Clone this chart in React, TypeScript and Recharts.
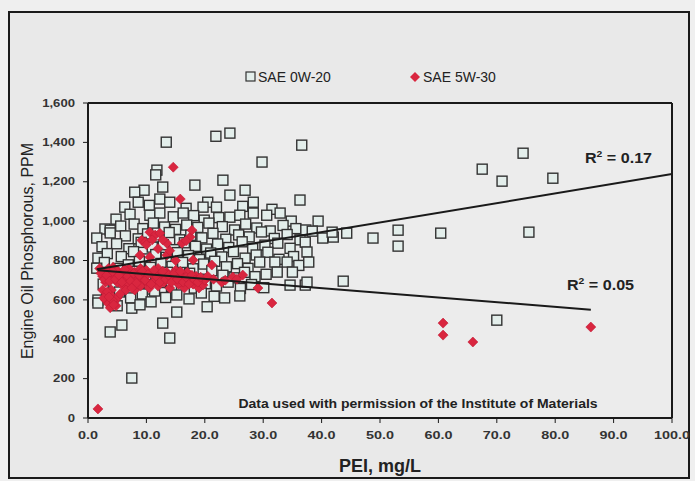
import React from 'react';
import { ScatterChart, Scatter, XAxis, YAxis, ReferenceLine, CartesianGrid } from 'recharts';

// SAE 0W-20 (x = PEI mg/L, y = Phosphorous PPM)
const sae0w20: { x: number; y: number }[] = [
  // upper fringe
  { x: 13.4, y: 1401 }, { x: 21.9, y: 1431 }, { x: 24.3, y: 1447 }, { x: 36.6, y: 1386 }, { x: 29.8, y: 1300 },
  { x: 11.8, y: 1259 }, { x: 11.6, y: 1235 }, { x: 23.1, y: 1208 }, { x: 12.8, y: 1173 }, { x: 18.3, y: 1183 },
  { x: 9.6, y: 1157 }, { x: 8.0, y: 1147 }, { x: 26.9, y: 1157 }, { x: 24.3, y: 1132 }, { x: 28.3, y: 1096 },
  { x: 8.6, y: 1096 }, { x: 12.3, y: 1112 }, { x: 6.3, y: 1071 }, { x: 14.0, y: 1096 }, { x: 20.5, y: 1096 },
  { x: 22.0, y: 1071 }, { x: 19.7, y: 1071 }, { x: 36.3, y: 1107 }, { x: 16.8, y: 1065 }, { x: 10.5, y: 1080 },
  { x: 26.5, y: 1075 }, { x: 31.5, y: 1060 },
  // 1000-1050
  { x: 4.8, y: 1010 }, { x: 7.2, y: 1035 }, { x: 10.6, y: 1030 }, { x: 12.3, y: 1041 }, { x: 14.6, y: 1022 },
  { x: 16.3, y: 1041 }, { x: 18.1, y: 1028 }, { x: 19.9, y: 1005 }, { x: 22.4, y: 1018 }, { x: 24.3, y: 1020 },
  { x: 26.0, y: 1030 }, { x: 28.3, y: 1041 }, { x: 30.6, y: 1030 }, { x: 32.9, y: 1041 }, { x: 34.8, y: 1000 },
  { x: 39.4, y: 1000 },
  // 950-1000
  { x: 2.9, y: 960 }, { x: 5.6, y: 975 }, { x: 7.9, y: 985 }, { x: 9.4, y: 962 }, { x: 11.2, y: 990 },
  { x: 13.1, y: 970 }, { x: 15.0, y: 958 }, { x: 16.9, y: 980 }, { x: 18.8, y: 968 }, { x: 20.7, y: 990 },
  { x: 23.0, y: 972 }, { x: 25.1, y: 955 }, { x: 27.0, y: 985 }, { x: 28.9, y: 965 }, { x: 31.2, y: 950 },
  { x: 33.4, y: 978 }, { x: 35.6, y: 962 }, { x: 37.3, y: 955 }, { x: 3.8, y: 954 },
  // 900-950
  { x: 1.5, y: 914 }, { x: 3.8, y: 940 }, { x: 6.4, y: 925 }, { x: 8.6, y: 910 }, { x: 10.2, y: 935 },
  { x: 12.0, y: 918 }, { x: 13.9, y: 942 }, { x: 15.7, y: 905 }, { x: 17.6, y: 928 }, { x: 19.5, y: 915 },
  { x: 21.4, y: 938 }, { x: 23.6, y: 908 }, { x: 25.8, y: 930 }, { x: 27.6, y: 920 }, { x: 29.7, y: 945 },
  { x: 31.9, y: 912 }, { x: 34.1, y: 932 }, { x: 36.3, y: 905 }, { x: 38.4, y: 949 }, { x: 40.2, y: 914 },
  { x: 42.0, y: 919 }, { x: 44.3, y: 939 }, { x: 41.8, y: 944 },
  // 850-900
  { x: 2.4, y: 870 }, { x: 4.9, y: 885 }, { x: 7.0, y: 860 }, { x: 9.1, y: 892 }, { x: 11.0, y: 868 },
  { x: 12.9, y: 880 }, { x: 14.8, y: 855 }, { x: 16.5, y: 890 }, { x: 18.4, y: 872 }, { x: 20.3, y: 858 },
  { x: 22.2, y: 884 }, { x: 24.1, y: 866 }, { x: 26.4, y: 895 }, { x: 28.2, y: 860 }, { x: 30.3, y: 878 },
  { x: 32.5, y: 888 }, { x: 34.6, y: 862 }, { x: 37.2, y: 893 },
  // 800-850
  { x: 1.7, y: 812 }, { x: 3.3, y: 835 }, { x: 5.7, y: 820 }, { x: 7.8, y: 845 }, { x: 9.7, y: 808 },
  { x: 11.6, y: 830 }, { x: 13.4, y: 816 }, { x: 15.3, y: 840 }, { x: 17.2, y: 825 }, { x: 19.1, y: 805 },
  { x: 21.0, y: 838 }, { x: 22.9, y: 818 }, { x: 24.9, y: 845 }, { x: 26.9, y: 812 }, { x: 28.8, y: 828 },
  { x: 30.8, y: 842 }, { x: 32.7, y: 806 }, { x: 35.2, y: 820 }, { x: 37.5, y: 843 },
  // 750-800
  { x: 2.8, y: 790 }, { x: 5.1, y: 760 }, { x: 6.9, y: 778 }, { x: 8.8, y: 795 }, { x: 10.7, y: 765 },
  { x: 12.5, y: 785 }, { x: 14.4, y: 770 }, { x: 16.2, y: 790 }, { x: 18.0, y: 758 }, { x: 19.8, y: 782 },
  { x: 21.7, y: 796 }, { x: 23.7, y: 768 }, { x: 25.6, y: 784 }, { x: 27.4, y: 760 }, { x: 29.4, y: 792 },
  { x: 32.0, y: 792 }, { x: 34.1, y: 792 }, { x: 36.1, y: 775 }, { x: 37.8, y: 792 },
  // 700-750
  { x: 1.5, y: 761 }, { x: 3.9, y: 735 }, { x: 6.0, y: 720 }, { x: 8.0, y: 745 }, { x: 9.9, y: 728 },
  { x: 11.8, y: 710 }, { x: 13.6, y: 740 }, { x: 15.5, y: 722 }, { x: 17.4, y: 735 }, { x: 19.3, y: 705 },
  { x: 21.2, y: 748 }, { x: 23.1, y: 725 }, { x: 25.0, y: 712 }, { x: 26.8, y: 740 }, { x: 28.6, y: 718 },
  { x: 30.5, y: 730 }, { x: 32.4, y: 741 }, { x: 35.0, y: 741 },
  // 650-700
  { x: 2.6, y: 680 }, { x: 4.6, y: 665 }, { x: 6.7, y: 690 }, { x: 8.7, y: 672 }, { x: 10.5, y: 655 },
  { x: 12.4, y: 688 }, { x: 14.3, y: 668 }, { x: 16.1, y: 695 }, { x: 18.2, y: 660 }, { x: 20.1, y: 682 },
  { x: 22.0, y: 670 }, { x: 24.0, y: 690 }, { x: 26.1, y: 658 }, { x: 28.0, y: 678 }, { x: 30.1, y: 662 },
  { x: 34.6, y: 675 }, { x: 37.2, y: 675 }, { x: 37.5, y: 690 }, { x: 43.7, y: 695 },
  // 600-650
  { x: 1.7, y: 599 }, { x: 3.2, y: 620 }, { x: 5.4, y: 640 }, { x: 7.3, y: 610 }, { x: 9.3, y: 630 },
  { x: 11.4, y: 645 }, { x: 13.3, y: 612 }, { x: 15.2, y: 625 }, { x: 17.3, y: 605 }, { x: 19.4, y: 635 },
  { x: 21.6, y: 618 }, { x: 23.4, y: 610 }, { x: 26.0, y: 620 },
  // 550-600
  { x: 1.7, y: 584 }, { x: 5.0, y: 570 }, { x: 7.5, y: 558 }, { x: 8.9, y: 575 }, { x: 10.8, y: 590 },
  { x: 20.4, y: 565 },
  // low
  { x: 3.8, y: 437 }, { x: 5.8, y: 472 }, { x: 12.8, y: 482 }, { x: 14.0, y: 406 }, { x: 7.5, y: 203 },
  { x: 15.2, y: 538 },
  // right side
  { x: 48.8, y: 914 }, { x: 53.1, y: 954 }, { x: 53.1, y: 873 }, { x: 60.4, y: 939 }, { x: 75.5, y: 944 },
  { x: 67.5, y: 1264 }, { x: 74.5, y: 1345 }, { x: 70.9, y: 1203 }, { x: 79.6, y: 1218 }, { x: 70.0, y: 497 },
];

// SAE 5W-30
const sae5w30: { x: number; y: number }[] = [
  { x: 1.7, y: 46 },
  // dense band
  { x: 2.0, y: 760 }, { x: 2.5, y: 720 }, { x: 3.0, y: 740 }, { x: 3.0, y: 690 }, { x: 3.5, y: 760 },
  { x: 4.0, y: 710 }, { x: 4.0, y: 650 }, { x: 4.3, y: 766 }, { x: 4.5, y: 730 }, { x: 5.0, y: 690 },
  { x: 5.0, y: 750 }, { x: 5.5, y: 710 }, { x: 6.0, y: 670 }, { x: 6.0, y: 740 }, { x: 6.5, y: 700 },
  { x: 7.0, y: 760 }, { x: 7.0, y: 680 }, { x: 7.5, y: 720 }, { x: 8.0, y: 650 }, { x: 8.0, y: 740 },
  { x: 8.5, y: 700 }, { x: 9.0, y: 760 }, { x: 9.0, y: 670 }, { x: 9.5, y: 720 }, { x: 10.0, y: 690 },
  { x: 10.0, y: 750 }, { x: 10.5, y: 660 }, { x: 11.0, y: 730 }, { x: 11.5, y: 700 }, { x: 12.0, y: 760 },
  { x: 12.0, y: 670 }, { x: 12.5, y: 720 }, { x: 13.0, y: 690 }, { x: 13.5, y: 740 }, { x: 14.0, y: 660 },
  { x: 14.5, y: 710 }, { x: 15.0, y: 750 }, { x: 15.5, y: 680 }, { x: 16.0, y: 720 }, { x: 16.5, y: 660 },
  { x: 17.0, y: 740 }, { x: 17.5, y: 700 }, { x: 18.0, y: 680 }, { x: 18.5, y: 720 }, { x: 19.0, y: 660 },
  { x: 19.7, y: 675 }, { x: 20.0, y: 700 }, { x: 21.2, y: 777 }, { x: 22.9, y: 690 }, { x: 24.8, y: 716 },
  { x: 26.5, y: 726 }, { x: 25.5, y: 705 }, { x: 29.1, y: 660 }, { x: 31.5, y: 584 },
  { x: 2.2, y: 735 }, { x: 2.8, y: 705 }, { x: 3.2, y: 725 }, { x: 3.7, y: 695 }, { x: 4.2, y: 745 },
  { x: 4.7, y: 705 }, { x: 5.3, y: 725 }, { x: 5.8, y: 690 }, { x: 6.3, y: 755 }, { x: 6.8, y: 720 },
  { x: 7.3, y: 695 }, { x: 7.8, y: 735 }, { x: 8.3, y: 685 }, { x: 8.8, y: 725 }, { x: 9.3, y: 745 },
  { x: 9.8, y: 700 }, { x: 10.3, y: 730 }, { x: 10.8, y: 680 }, { x: 11.3, y: 750 }, { x: 11.8, y: 715 },
  { x: 12.3, y: 690 }, { x: 12.8, y: 745 }, { x: 13.3, y: 705 }, { x: 13.8, y: 725 }, { x: 14.3, y: 690 },
  { x: 14.8, y: 735 }, { x: 15.3, y: 705 }, { x: 15.8, y: 745 }, { x: 16.3, y: 690 }, { x: 16.8, y: 715 },
  { x: 17.3, y: 680 }, { x: 17.8, y: 725 }, { x: 18.3, y: 700 }, { x: 18.8, y: 690 }, { x: 19.3, y: 715 },
  { x: 20.5, y: 720 }, { x: 21.5, y: 705 }, { x: 23.5, y: 700 },
  // lower blob
  { x: 3.0, y: 600 }, { x: 3.5, y: 580 }, { x: 4.0, y: 620 }, { x: 4.5, y: 590 }, { x: 5.0, y: 610 },
  { x: 3.8, y: 560 }, { x: 4.8, y: 570 }, { x: 2.5, y: 650 }, { x: 3.3, y: 640 }, { x: 2.7, y: 610 },
  { x: 4.2, y: 598 }, { x: 5.5, y: 630 }, { x: 6.5, y: 650 }, { x: 7.5, y: 660 }, { x: 3.6, y: 615 },
  { x: 4.4, y: 575 },
  // raised group
  { x: 8.9, y: 827 }, { x: 9.2, y: 903 }, { x: 9.8, y: 893 }, { x: 10.6, y: 944 }, { x: 10.6, y: 817 },
  { x: 11.5, y: 929 }, { x: 12.3, y: 939 }, { x: 13.5, y: 888 }, { x: 13.5, y: 827 }, { x: 16.1, y: 888 },
  { x: 17.5, y: 919 }, { x: 17.8, y: 954 }, { x: 18.0, y: 802 }, { x: 15.8, y: 1112 }, { x: 14.6, y: 1274 },
  { x: 12.0, y: 860 }, { x: 15.0, y: 800 }, { x: 10.0, y: 880 }, { x: 11.0, y: 905 }, { x: 14.0, y: 850 },
  { x: 16.8, y: 900 }, { x: 12.8, y: 905 },
  // right side
  { x: 60.8, y: 482 }, { x: 60.8, y: 421 }, { x: 65.9, y: 386 }, { x: 86.1, y: 462 },
];

// Linear trend line end points
const trend0w20 = [{ x: 1.5, y: 755 }, { x: 100, y: 1239 }];
const trend5w30 = [{ x: 1.7, y: 750 }, { x: 86.1, y: 550 }];

const xTicks = [0, 10, 20, 30, 40, 50, 60, 70, 80, 90, 100];
const yTicks = [0, 200, 400, 600, 800, 1000, 1200, 1400, 1600];

const seriesNames = ['SAE 0W-20', 'SAE 5W-30'];
const r2Values = ['0.17', '0.05'];
const yLabel = 'Engine Oil Phosphorous, PPM';
const xLabel = 'PEI, mg/L';
const note = 'Data used with permission of the Institute of Materials';

const FONT = '"Liberation Sans", Arial, sans-serif';
const SQ_FILL = '#e3eeeb';
const SQ_STROKE = '#333';
const DIA_FILL = '#d9263f';

const SquareShape = (props: any) => {
  const { cx, cy } = props;
  if (cx == null || cy == null) return <g />;
  return <rect x={cx - 5} y={cy - 5} width={10} height={10} fill={SQ_FILL} stroke={SQ_STROKE} strokeWidth={1.4} />;
};

const DiamondShape = (props: any) => {
  const { cx, cy } = props;
  if (cx == null || cy == null) return <g />;
  const r = 5;
  return <path d={`M${cx},${cy - r}L${cx + r},${cy}L${cx},${cy + r}L${cx - r},${cy}Z`} fill={DIA_FILL} stroke="#c21a35" strokeWidth={0.6} />;
};

const NoShape = () => <g />;

const XTick = (props: any) => {
  const { x, y, payload } = props;
  return (
    <text x={0} y={0} transform={`translate(${x},${y}) scale(1.25,1)`} textAnchor="middle" dy="0.71em"
      fontFamily={FONT} fontWeight="bold" fontSize={11.5} fill="#333">
      {Number(payload.value).toFixed(1)}
    </text>
  );
};

const YTick = (props: any) => {
  const { x, y, payload } = props;
  return (
    <text x={0} y={0} transform={`translate(${x},${y}) scale(1.25,1)`} textAnchor="end" dy="0.35em"
      fontFamily={FONT} fontWeight="bold" fontSize={10.5} fill="#333">
      {Number(payload.value).toLocaleString('en-US')}
    </text>
  );
};

const R2Label = ({ x, y, value }: { x: number; y: number; value: string }) => (
  <text x={0} y={0} transform={`translate(${x},${y}) scale(1.15,1)`} fontSize={14} fontWeight="bold" fill="#222">
    R<tspan dy={-6} fontSize={9}>2</tspan><tspan dy={6}>{` = ${value}`}</tspan>
  </text>
);

export default function App() {
  return (
    <div style={{ position: 'absolute', left: 0, top: 0, width: 695, height: 481, background: '#efefef', overflow: 'hidden' }}>
      <svg width={695} height={481} style={{ position: 'absolute', left: 0, top: 0 }}>
        <rect x={9} y={12} width={680} height={466} fill="#e9e9e9" stroke="#1a1a1a" strokeWidth={2} />
      </svg>
      <div style={{ position: 'absolute', left: 0, top: 0 }}>
        <ScatterChart width={695} height={481} margin={{ top: 103, right: 23, left: 28, bottom: 33 }}>
          <CartesianGrid horizontal={false} vertical={false} fill="#ececec" />
          <XAxis type="number" dataKey="x" domain={[0, 100]} ticks={xTicks} height={30}
            tick={<XTick />} tickSize={5} tickMargin={8} axisLine={{ stroke: '#1a1a1a', strokeWidth: 2 }}
            tickLine={{ stroke: '#1a1a1a' }} allowDataOverflow />
          <YAxis type="number" dataKey="y" domain={[0, 1600]} ticks={yTicks} width={60}
            tick={<YTick />} tickSize={5} tickMargin={8} axisLine={{ stroke: '#1a1a1a', strokeWidth: 2 }}
            tickLine={{ stroke: '#1a1a1a' }} allowDataOverflow />
          <ReferenceLine y={1600} stroke="#1a1a1a" strokeWidth={2} ifOverflow="extendDomain" />
          <ReferenceLine x={100} stroke="#1a1a1a" strokeWidth={2} ifOverflow="extendDomain" />
          <Scatter name={seriesNames[0]} data={sae0w20} shape={<SquareShape />} isAnimationActive={false} />
          <Scatter name={seriesNames[1]} data={sae5w30} shape={<DiamondShape />} isAnimationActive={false} />
          <Scatter data={trend0w20} line={{ stroke: '#1a1a1a', strokeWidth: 2 }} shape={<NoShape />} legendType="none" isAnimationActive={false} />
          <Scatter data={trend5w30} line={{ stroke: '#1a1a1a', strokeWidth: 2 }} shape={<NoShape />} legendType="none" isAnimationActive={false} />
        </ScatterChart>
      </div>
      <svg width={695} height={481} style={{ position: 'absolute', left: 0, top: 0, pointerEvents: 'none' }} fontFamily={FONT}>
        {/* legend */}
        <rect x={246} y={72} width={9} height={9} fill={SQ_FILL} stroke={SQ_STROKE} strokeWidth={1.2} />
        <text x={258} y={82} fontSize={14} fill="#222">{seriesNames[0]}</text>
        <path d="M415,72L420,77L415,82L410,77Z" fill={DIA_FILL} />
        <text x={423} y={82} fontSize={14} fill="#222">{seriesNames[1]}</text>
        {/* R² labels */}
        <R2Label x={585} y={163} value={r2Values[0]} />
        <R2Label x={567} y={290} value={r2Values[1]} />
        {/* note */}
        <text x={0} y={0} transform="translate(418,408) scale(1.12,1)" textAnchor="middle" fontSize={12.5} fontWeight="bold" fill="#222">{note}</text>
        {/* axis titles */}
        <text x={0} y={0} transform="translate(33,251) rotate(-90)" textAnchor="middle" fontSize={16} fill="#222">{yLabel}</text>
        <text x={380} y={472} textAnchor="middle" fontSize={18} fontWeight="bold" fill="#222">{xLabel}</text>
      </svg>
    </div>
  );
}
